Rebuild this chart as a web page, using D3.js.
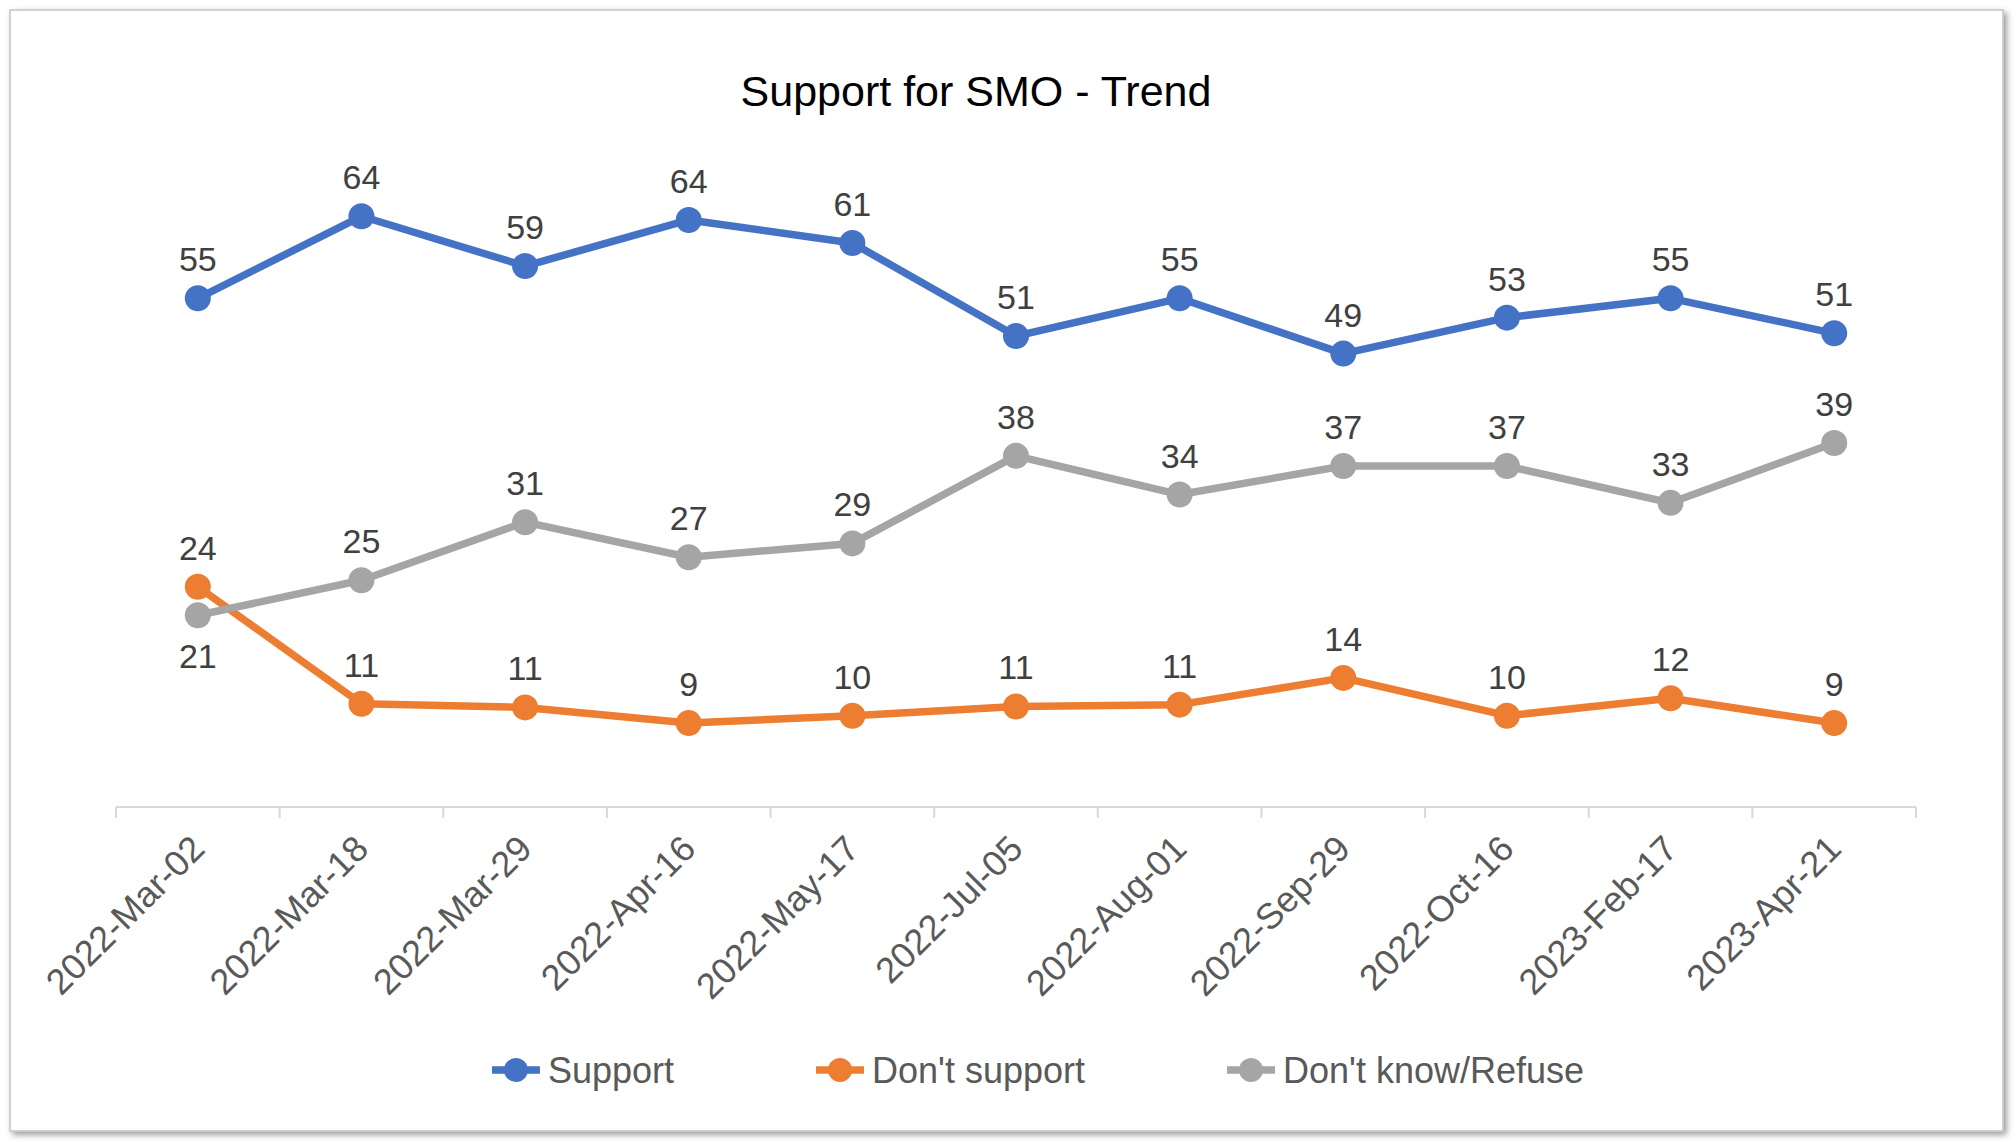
<!DOCTYPE html>
<html>
<head>
<meta charset="utf-8">
<script src="https://cdn.jsdelivr.net/npm/d3@7"></script>
<style>
    body { margin: 0; background: #ffffff; }
    text { font-family: "Liberation Sans", Arial, Helvetica, sans-serif; }
</style>
</head>
<body>
<div id="vis"></div>
<script>
// data
var categories = ['2022-Mar-02', '2022-Mar-18', '2022-Mar-29', '2022-Apr-16', '2022-May-17',
    '2022-Jul-05', '2022-Aug-01', '2022-Sep-29', '2022-Oct-16', '2023-Feb-17', '2023-Apr-21'];
var seriesNames = ['Support', "Don't support", "Don't know/Refuse"];
var supportValues = [55.1, 64.0, 58.6, 63.6, 61.1, 51.0, 55.1, 49.1, 53.0, 55.1, 51.3];
var dontSupportValues = [23.8, 11.1, 10.7, 9.0, 9.8, 10.8, 11.0, 13.9, 9.8, 11.7, 9.0];
var dontKnowValues = [20.7, 24.5, 30.8, 27.0, 28.5, 38.0, 33.8, 36.9, 36.9, 32.9, 39.4];
var yDomain = [0, 70];
var chartTitle = 'Support for SMO - Trend';

class TrendChart
{
    constructor(width, height)
    {
        // constants
        this.colors = ['#4472C4', '#ED7D31', '#A5A5A5'];
        this.plot = { left: 116, right: 1916, top: 161, bottom: 806 };
        this.lineWidth = 7.5;
        this.markerRadius = 13;

        this.width = width;
        this.height = height;

        this.svg = d3.select('#vis')
            .append('svg')
                .attr('width', this.width)
                .attr('height', this.height);

        this.xScale = d3.scaleBand()
            .domain(categories)
            .range([this.plot.left, this.plot.right])
            .padding(0);
        this.yScale = d3.scaleLinear()
            .domain(yDomain)
            .range([this.plot.bottom, this.plot.top]);

        this.series = [
            { name: seriesNames[0], values: supportValues, color: this.colors[0], below: [] },
            { name: seriesNames[1], values: dontSupportValues, color: this.colors[1], below: [] },
            { name: seriesNames[2], values: dontKnowValues, color: this.colors[2], below: [0] }
        ];
    }

    drawFrame()
    {
        var defs = this.svg.append('defs');
        var f = defs.append('filter')
            .attr('id', 'shadow')
            .attr('x', '-5%').attr('y', '-5%')
            .attr('width', '110%').attr('height', '110%');
        f.append('feDropShadow')
            .attr('dx', 3).attr('dy', 3)
            .attr('stdDeviation', 3)
            .attr('flood-color', '#000')
            .attr('flood-opacity', 0.4);

        this.svg.append('rect')
            .attr('x', 10).attr('y', 10)
            .attr('width', 1993).attr('height', 1121)
            .attr('fill', '#fff')
            .attr('stroke', '#c4c4c4')
            .attr('stroke-width', 1.5)
            .attr('filter', 'url(#shadow)');

        this.svg.append('text')
            .attr('x', 976).attr('y', 106)
            .attr('text-anchor', 'middle')
            .attr('font-size', 43)
            .attr('fill', '#000')
            .text(chartTitle);
    }

    drawAxis()
    {
        var x = this.xScale;
        var g = this.svg.append('g');

        g.append('line')
            .attr('x1', this.plot.left).attr('x2', this.plot.right)
            .attr('y1', 807).attr('y2', 807)
            .attr('stroke', '#d9d9d9')
            .attr('stroke-width', 2);

        // ticks between categories
        var bounds = categories.map(function(c) { return x(c); });
        bounds.push(x(categories[categories.length - 1]) + x.bandwidth());
        g.selectAll('.tick-mark')
            .data(bounds)
            .enter()
            .append('line')
            .attr('class', 'tick-mark')
            .attr('x1', function(d) { return d; })
            .attr('x2', function(d) { return d; })
            .attr('y1', 807).attr('y2', 818)
            .attr('stroke', '#d9d9d9')
            .attr('stroke-width', 2);

        g.selectAll('.tick-label')
            .data(categories)
            .enter()
            .append('text')
            .attr('class', 'tick-label')
            .attr('transform', function(d) {
                return 'translate(' + (x(d) + x.bandwidth() / 2) + ',842) rotate(-45)';
            })
            .attr('dy', '0.35em')
            .attr('text-anchor', 'end')
            .attr('font-size', 36)
            .attr('fill', '#595959')
            .text(function(d) { return d; });
    }

    drawSeries()
    {
        var that = this;
        var x = this.xScale;
        var y = this.yScale;
        var cx = function(d, i) { return x(categories[i]) + x.bandwidth() / 2; };

        var line = d3.line()
            .x(cx)
            .y(function(d) { return y(d); });

        var groups = this.svg.selectAll('.series')
            .data(this.series)
            .enter()
            .append('g')
            .attr('class', 'series');

        groups.append('path')
            .attr('d', function(s) { return line(s.values); })
            .attr('fill', 'none')
            .attr('stroke', function(s) { return s.color; })
            .attr('stroke-width', this.lineWidth)
            .attr('stroke-linejoin', 'round')
            .attr('stroke-linecap', 'round');

        groups.each(function(s) {
            d3.select(this).selectAll('circle')
                .data(s.values)
                .enter()
                .append('circle')
                .attr('cx', cx)
                .attr('cy', function(d) { return y(d); })
                .attr('r', that.markerRadius)
                .attr('fill', s.color);
        });

        // data labels on top
        var labels = this.svg.append('g');
        this.series.forEach(function(s) {
            labels.selectAll(null)
                .data(s.values)
                .enter()
                .append('text')
                .attr('x', cx)
                .attr('y', function(d, i) {
                    return s.below.indexOf(i) >= 0 ? y(d) + 53 : y(d) - 27;
                })
                .attr('text-anchor', 'middle')
                .attr('font-size', 34)
                .attr('fill', '#404040')
                .text(function(d) { return Math.round(d); });
        });
    }

    drawLegend()
    {
        var that = this;
        var g = this.svg.append('g');
        var cy = 1070;
        var lineLen = 48;
        var gap = 142;

        var items = g.selectAll('.legend-item')
            .data(this.series)
            .enter()
            .append('g')
            .attr('class', 'legend-item');

        items.append('line')
            .attr('x1', 0).attr('x2', lineLen)
            .attr('y1', cy).attr('y2', cy)
            .attr('stroke', function(s) { return s.color; })
            .attr('stroke-width', that.lineWidth);
        items.append('circle')
            .attr('cx', lineLen / 2).attr('cy', cy)
            .attr('r', 12)
            .attr('fill', function(s) { return s.color; });
        items.append('text')
            .attr('x', lineLen + 8)
            .attr('y', cy + 13)
            .attr('font-size', 36)
            .attr('fill', '#595959')
            .text(function(s) { return s.name; });

        // lay entries out centered
        var widths = [];
        items.each(function() { widths.push(this.getBBox().width); });
        var total = d3.sum(widths) + gap * (widths.length - 1);
        var start = 1038 - total / 2;
        items.attr('transform', function(s, i) {
            var off = start + d3.sum(widths.slice(0, i)) + gap * i;
            return 'translate(' + off + ',0)';
        });
    }

    Run()
    {
        this.drawFrame();
        this.drawAxis();
        this.drawSeries();
        this.drawLegend();
    }
}

window.onload = function()
{
    var chart = new TrendChart(2016, 1142);
    chart.Run();
}
</script>
</body>
</html>
